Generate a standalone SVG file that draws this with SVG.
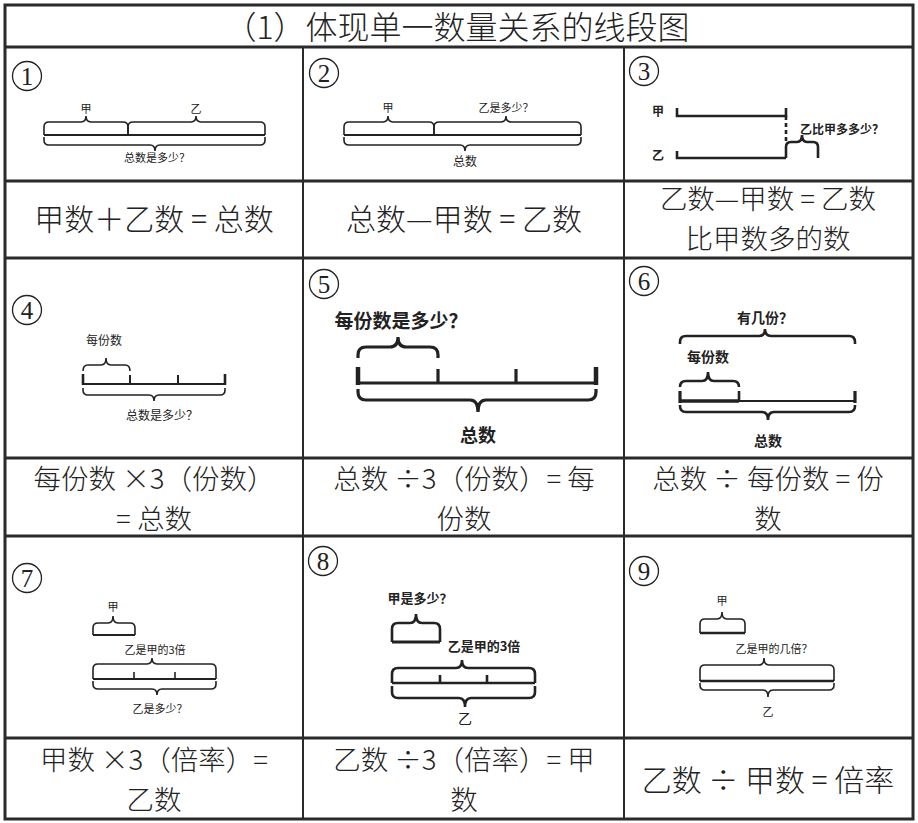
<svg xmlns="http://www.w3.org/2000/svg" width="918" height="823" viewBox="0 0 918 823">
<style>
.grid{fill:none;stroke:#2a2a2a;stroke-width:3}
.vgrid{fill:none;stroke:#2a2a2a;stroke-width:2}
.f{font-family:"Noto Sans CJK SC","Noto Sans CJK JP",sans-serif;font-size:27.5px;font-weight:300;fill:#222;text-anchor:middle}
.f1{font-size:30px}
.t{font-family:"Noto Sans CJK SC",sans-serif;font-size:32px;font-weight:300;fill:#222;text-anchor:middle}
.c{fill:none;stroke:#222;stroke-width:1.3}
.n{font-family:"Liberation Serif",serif;font-size:25px;fill:#222;text-anchor:middle}
.s{font-family:"Noto Sans CJK SC",sans-serif;font-size:11px;fill:#222;text-anchor:middle}
.b{font-family:"Noto Sans CJK SC",sans-serif;font-weight:bold;fill:#222;text-anchor:middle}
.ln{fill:none;stroke:#222;stroke-width:1.6;stroke-linecap:butt}
.lt{fill:none;stroke:#222;stroke-width:2.6}
.lx{fill:none;stroke:#222;stroke-width:3.2}
</style>
<rect width="918" height="823" fill="#fff"/>
<g id="grid">
<rect class="grid" x="5" y="5" width="908" height="814"/>
<path class="grid" d="M5,47H913M5,181H913M5,258H913M5,458H913M5,536H913M5,738H913"/>
<path class="vgrid" d="M303,47V819M624,47V819"/>
</g>
<text class="t" x="457" y="39">（1）体现单一数量关系的线段图</text>

<g id="cell1">
<circle class="c" cx="27" cy="76" r="14.5"/><text class="n" x="27" y="84.5">1</text>
<g class="ln">
<path d="M44,135L44,127Q44,122 49,122L81,122Q86,122 86,116Q86,122 91,122L123,122Q128,122 128,127L128,135"/>
<path d="M128,135L128,127Q128,122 133,122L191,122Q196,122 196,116Q196,122 201,122L260,122Q265,122 265,127L265,135"/>
<path d="M44,135L265,135" stroke-width="2"/>
<path d="M44,137L44,140Q44,145 49,145L150,145Q155,145 155,151Q155,145 160,145L260,145Q265,145 265,140L265,137"/>
</g>
<text class="s" x="86" y="113">甲</text>
<text class="s" x="196" y="113">乙</text>
<text class="s" x="157" y="162">总数是多少？</text>
</g>

<g id="cell2">
<circle class="c" cx="324" cy="73" r="14.5"/><text class="n" x="324" y="81.5">2</text>
<g class="ln">
<path d="M344,135L344,127Q344,122 349,122L383,122Q388,122 388,116Q388,122 393,122L429,122Q434,122 434,127L434,135"/>
<path d="M434,135L434,127Q434,122 439,122L501,122Q506,122 506,116Q506,122 511,122L576,122Q581,122 581,127L581,135"/>
<path d="M344,135L581,135" stroke-width="2"/>
<path d="M344,137L344,140Q344,145 349,145L460,145Q465,145 465,151Q465,145 470,145L576,145Q581,145 581,140L581,137"/>
</g>
<text class="s" x="388" y="112">甲</text>
<text class="s" x="506" y="112">乙是多少？</text>
<text class="s" x="465" y="166" style="font-size:12px">总数</text>
</g>

<g id="cell3">
<circle class="c" cx="644" cy="71" r="14.5"/><text class="n" x="644" y="79.5">3</text>
<g class="lt">
<path d="M677,108L677,116L786,116L786,108"/>
<path d="M786,116L786,144" stroke-dasharray="4,3"/>
<path d="M677,151L677,158L786,158"/>
<path d="M786,158L786,147Q786,142 791,142L797,142Q802,142 802,135Q802,142 807,142L813,142Q818,142 818,147L818,158"/>
</g>
<text class="b" x="658" y="116" style="font-size:12px">甲</text>
<text class="b" x="658" y="160" style="font-size:12px">乙</text>
<text class="b" x="842" y="134" style="font-size:12px">乙比甲多多少？</text>
</g>

<g id="cell4">
<circle class="c" cx="27" cy="310" r="14.5"/><text class="n" x="27" y="318.5">4</text>
<g class="ln">
<path d="M83,371Q83,365 88,365L101,365Q106,365 106,358Q106,365 111,365L125,365Q130,365 130,371"/>
<path d="M83,384L225,384" stroke-width="2"/>
<path d="M83,374V385M225,374V385" stroke-width="2.6"/>
<path d="M130,375V384M178,375V384" stroke-width="2"/>
<path d="M83,388L83,390Q83,395 88,395L149,395Q154,395 154,401Q154,395 159,395L220,395Q225,395 225,390L225,388"/>
</g>
<text class="s" x="104" y="345" style="font-size:12px">每份数</text>
<text class="s" x="162" y="420" style="font-size:12px">总数是多少？</text>
</g>

<g id="cell5">
<circle class="c" cx="324" cy="284" r="14.5"/><text class="n" x="324" y="292.5">5</text>
<g class="lx">
<path d="M358,358L358,355Q358,347 366,347L390,347Q398,347 398,337Q398,347 406,347L430,347Q438,347 438,355L438,358"/>
<path d="M358,383L596,383"/>
<path d="M358,367V385M596,367V385" stroke-width="4.5"/>
<path d="M438,369V383M516,369V383"/>
<path d="M358,389L358,392Q358,400 366,400L470,400Q478,400 478,412Q478,400 486,400L588,400Q596,400 596,392L596,389"/>
</g>
<text class="b" x="401" y="328" style="font-size:19px">每份数是多少？</text>
<text class="b" x="478" y="442" style="font-size:18px">总数</text>
</g>

<g id="cell6">
<circle class="c" cx="644" cy="281" r="14.5"/><text class="n" x="644" y="289.5">6</text>
<g class="lt">
<path d="M680,344L680,342Q680,336 686,336L759,336Q765,336 765,329Q765,336 771,336L849,336Q855,336 855,342L855,344"/>
<path d="M680,387L680,387Q680,381 686,381L702,381Q708,381 708,372Q708,381 714,381L733,381Q739,381 739,387"/>
<path d="M680,401L739,401" stroke-width="3.6"/>
<path d="M739,401L855,401" stroke-width="2.2"/>
<path d="M680,391V403M855,391V403" stroke-width="3.2"/>
<path d="M739,391V401"/>
<path d="M680,405L680,406Q680,412 686,412L762,412Q768,412 768,420Q768,412 774,412L849,412Q855,412 855,406L855,405"/>
</g>
<text class="b" x="765" y="323" style="font-size:14px">有几份？</text>
<text class="b" x="708" y="362" style="font-size:14px">每份数</text>
<text class="b" x="768" y="446" style="font-size:14px">总数</text>
</g>

<g id="cell7">
<circle class="c" cx="27" cy="578" r="14.5"/><text class="n" x="27" y="586.5">7</text>
<g class="ln">
<path d="M93,635L93,628Q93,623 98,623L108,623Q113,623 113,616Q113,623 118,623L130,623Q135,623 135,628L135,635"/>
<path d="M93,635L135,635" stroke-width="2.2"/>
<path d="M93,679L93,669Q93,664 98,664L147,664Q152,664 152,658Q152,664 157,664L211,664Q216,664 216,669L216,679"/>
<path d="M93,679L216,679" stroke-width="2"/>
<path d="M134,672V679M175,672V679"/>
<path d="M93,681L93,684Q93,689 98,689L152,689Q157,689 157,695Q157,689 162,689L211,689Q216,689 216,684L216,681"/>
</g>
<text class="s" x="113" y="611">甲</text>
<text class="s" x="155" y="654">乙是甲的3倍</text>
<text class="s" x="160" y="713">乙是多少？</text>
</g>

<g id="cell8">
<circle class="c" cx="323" cy="561" r="14.5"/><text class="n" x="323" y="569.5">8</text>
<g class="lt">
<path d="M392,642L392,629Q392,623 398,623L410,623Q416,623 416,614Q416,623 422,623L434,623Q440,623 440,629L440,642"/>
<path d="M392,642L440,642" stroke-width="3.2"/>
<path d="M392,683L392,674Q392,668 398,668L456,668Q462,668 462,660Q462,668 468,668L529,668Q535,668 535,674L535,683"/>
<path d="M392,683L535,683"/>
<path d="M440,675V683M487,675V683"/>
<path d="M392,686L392,692Q392,698 398,698L459,698Q465,698 465,707Q465,698 471,698L529,698Q535,698 535,692L535,686"/>
</g>
<text class="b" x="420" y="603" style="font-size:13px">甲是多少？</text>
<text class="b" x="484" y="651" style="font-size:13px">乙是甲的3倍</text>
<text class="s" x="465" y="724" style="font-size:14px">乙</text>
</g>

<g id="cell9">
<circle class="c" cx="644" cy="571" r="14.5"/><text class="n" x="644" y="579.5">9</text>
<g class="ln">
<path d="M700,633L700,624Q700,619 705,619L717,619Q722,619 722,612Q722,619 727,619L740,619Q745,619 745,624L745,633"/>
<path d="M700,633L745,633" stroke-width="2.4"/>
<path d="M700,681L700,670Q700,665 705,665L759,665Q764,665 764,658Q764,665 769,665L829,665Q834,665 834,670L834,681"/>
<path d="M700,681L834,681" stroke-width="2.6"/>
<path d="M700,683L700,685Q700,690 705,690L763,690Q768,690 768,697Q768,690 773,690L829,690Q834,690 834,685L834,683"/>
</g>
<text class="s" x="722" y="605">甲</text>
<text class="s" x="774" y="653">乙是甲的几倍？</text>
<text class="s" x="768" y="716">乙</text>
</g>

<g id="formulas">
<text class="f f1" x="154" y="230">甲数＋乙数 = 总数</text>
<text class="f f1" x="464" y="230">总数—甲数 = 乙数</text>
<text class="f" x="768" y="209">乙数—甲数 = 乙数</text>
<text class="f" x="768" y="249">比甲数多的数</text>
<text class="f" x="154" y="489">每份数 ×3（份数）</text>
<text class="f" x="154" y="529">= 总数</text>
<text class="f" x="464" y="489">总数 ÷3（份数）= 每</text>
<text class="f" x="464" y="529">份数</text>
<text class="f" x="768" y="489">总数 ÷ 每份数 = 份</text>
<text class="f" x="768" y="529">数</text>
<text class="f" x="154" y="770">甲数 ×3（倍率）=</text>
<text class="f" x="154" y="810">乙数</text>
<text class="f" x="464" y="770">乙数 ÷3（倍率）= 甲</text>
<text class="f" x="464" y="810">数</text>
<text class="f f1" x="768" y="791">乙数 ÷ 甲数 = 倍率</text>
</g>
</svg>
